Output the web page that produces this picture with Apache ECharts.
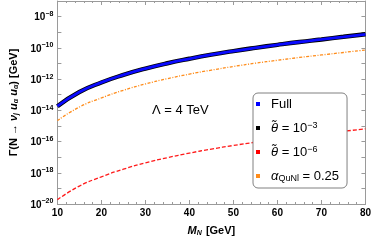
<!DOCTYPE html>
<html>
<head>
<meta charset="utf-8">
<script src="https://cdn.jsdelivr.net/npm/echarts@6/dist/echarts.min.js"></script>
<style>html,body{margin:0;padding:0;background:#fff;}#c{width:374px;height:242px;}</style>
</head>
<body>
<div id="c"></div>
<script>
var masses = [10, 15, 20, 25, 30, 35, 40, 45, 50, 55, 60, 65, 70, 75, 80];
var fullVals = [1.85e-14, 1.5e-13, 6.1e-13, 1.85e-12, 4.7e-12, 1.03e-11, 2.0e-11, 3.65e-11, 6.2e-11, 1.0e-10, 1.56e-10, 2.37e-10, 3.45e-10, 5.1e-10, 7.4e-10];
var theta3Vals = [1.85e-14, 1.5e-13, 6.1e-13, 1.85e-12, 4.7e-12, 1.03e-11, 2.0e-11, 3.65e-11, 6.2e-11, 1.0e-10, 1.56e-10, 2.37e-10, 3.45e-10, 5.1e-10, 7.4e-10];
var theta6Vals = [1.9e-20, 1.41e-19, 5.5e-19, 1.7e-18, 4.3e-18, 9.3e-18, 1.82e-17, 3.3e-17, 5.6e-17, 9.1e-17, 1.41e-16, 2.14e-16, 3.1e-16, 4.5e-16, 6.5e-16];
var alphaVals = [2.2e-15, 1.62e-14, 6.2e-14, 1.92e-13, 4.85e-13, 1.06e-12, 2.08e-12, 3.75e-12, 6.4e-12, 1.04e-11, 1.6e-11, 2.42e-11, 3.5e-11, 5.05e-11, 7.3e-11];
var xTicks = [10, 20, 30, 40, 50, 60, 70, 80];
var yLabelExps = [-20, -18, -16, -14, -12, -10, -8];

function pairs(v) { return masses.map(function (m, i) { return [m, v[i]]; }); }

var FF = '"Liberation Sans", Arial, sans-serif';
var chart = echarts.init(document.getElementById('c'), null, {renderer: 'canvas'});
var axisGray = '#9a9a9a';

var legendText = {
  'Full': 'Full',
  'theta3': '{it|θ̃} = 10{sup|−3}',
  'theta6': '{it|θ̃} = 10{sup|−6}',
  'alpha': '{it|α}{sub|QuNl} = 0.25'
};

chart.setOption({
  animation: false,
  grid: {left: 48, right: 8, top: 1, bottom: 35},
  xAxis: [{
    type: 'value', min: 10, max: 80, interval: 10, position: 'bottom',
    name: '{it|M}{sub|N} [GeV]', nameLocation: 'middle', nameGap: 21,
    nameTextStyle: {
      fontFamily: FF, fontSize: 11, fontWeight: 'bold', color: '#000',
      rich: {
        it: {fontFamily: FF, fontSize: 11, fontWeight: 'bold', fontStyle: 'italic', color: '#000'},
        sub: {fontFamily: FF, fontSize: 7, fontWeight: 'bold', fontStyle: 'italic', color: '#000', padding: [5, 1, 0, 0]}
      }
    },
    axisLine: {show: true, lineStyle: {color: axisGray}},
    axisTick: {show: true, inside: true, length: 4, lineStyle: {color: axisGray}},
    minorTick: {show: true, splitNumber: 5, length: 2, lineStyle: {color: axisGray}},
    splitLine: {show: false},
    axisLabel: {
      fontFamily: FF, fontSize: 10, fontWeight: 'bold', color: '#000', margin: 4,
      formatter: function (v) { return xTicks.indexOf(v) >= 0 ? String(v) : ''; }
    }
  }, {
    type: 'value', min: 10, max: 80, interval: 10, position: 'top',
    axisLine: {show: true, onZero: false, lineStyle: {color: axisGray}},
    axisTick: {show: true, inside: true, length: 4, lineStyle: {color: axisGray}},
    minorTick: {show: true, splitNumber: 5, length: 2, lineStyle: {color: axisGray}},
    splitLine: {show: false},
    axisLabel: {show: false}
  }],
  yAxis: [{
    type: 'log', logBase: 10, min: 1e-20, max: 1e-7, interval: 1, position: 'left',
    name: 'Γ(N → {it|ν}{sub|j} {it|u}{sub|α} {it|u}{sub|α}) [GeV]',
    nameLocation: 'middle', nameRotate: 90, nameGap: 37,
    nameTextStyle: {
      fontFamily: FF, fontSize: 11, fontWeight: 'bold', color: '#000',
      rich: {
        it: {fontFamily: FF, fontSize: 11, fontWeight: 'bold', fontStyle: 'italic', color: '#000'},
        sub: {fontFamily: FF, fontSize: 7, fontWeight: 'bold', fontStyle: 'italic', color: '#000', padding: [5, 0, 0, 0]}
      }
    },
    axisLine: {show: true, lineStyle: {color: axisGray}},
    axisTick: {show: true, inside: true, length: 4, lineStyle: {color: axisGray}},
    splitLine: {show: false},
    axisLabel: {
      margin: 4, color: '#000',
      formatter: function (v) {
        var e = Math.round(Math.log10(v));
        if (yLabelExps.indexOf(e) < 0) return '';
        return '{b|10}{s|−' + Math.abs(e) + '}';
      },
      rich: {
        b: {fontFamily: FF, fontSize: 10, fontWeight: 'bold', color: '#000', verticalAlign: 'bottom'},
        s: {fontFamily: FF, fontSize: 7, fontWeight: 'bold', color: '#000', verticalAlign: 'bottom', padding: [0, 0, 5, 0]}
      }
    }
  }, {
    type: 'log', logBase: 10, min: 1e-20, max: 1e-7, interval: 1, position: 'right',
    axisLine: {show: true, lineStyle: {color: axisGray}},
    axisTick: {show: true, inside: true, length: 4, lineStyle: {color: axisGray}},
    splitLine: {show: false},
    axisLabel: {show: false}
  }],
  legend: {
    orient: 'vertical', left: 253, top: 93,
    data: ['Full', 'theta3', 'theta6', 'alpha'],
    icon: 'rect', itemWidth: 4, itemHeight: 4, itemGap: 8,
    backgroundColor: '#fff', borderColor: '#808080', borderWidth: 1, borderRadius: 5,
    padding: [3, 8, 4, 3],
    formatter: function (n) { return legendText[n]; },
    textStyle: {
      fontFamily: FF, fontSize: 13, color: '#000', lineHeight: 16, padding: [0, 0, 0, 6],
      rich: {
        it: {fontFamily: FF, fontSize: 13, fontStyle: 'italic', color: '#000', lineHeight: 16},
        sup: {fontFamily: FF, fontSize: 9, color: '#000', verticalAlign: 'bottom', padding: [0, 0, 6, 0]},
        sub: {fontFamily: FF, fontSize: 9, color: '#000', padding: [5, 0, 0, 0]}
      }
    }
  },
  graphic: [{
    type: 'text', left: 152, top: 104, silent: true,
    style: {text: 'Λ = 4 TeV', font: '13px "Liberation Sans", Arial, sans-serif', fill: '#000'}
  }],
  series: [{
    name: 'theta3', type: 'line', data: pairs(theta3Vals), smooth: true, showSymbol: false,
    color: '#000000', lineStyle: {width: 4.4, color: '#000000'}, z: 2
  }, {
    name: 'Full', type: 'line', data: pairs(fullVals), smooth: true, showSymbol: false,
    color: '#0000ff', lineStyle: {width: 2.8, color: '#0a0aff'}, z: 3
  }, {
    name: 'theta6', type: 'line', data: pairs(theta6Vals), smooth: true, showSymbol: false,
    color: '#ff0000', lineStyle: {width: 1.3, color: '#ff1a1a', type: [4, 2]}, z: 3
  }, {
    name: 'alpha', type: 'line', data: pairs(alphaVals), smooth: true, showSymbol: false,
    color: '#ff8c1a', lineStyle: {width: 1.3, color: '#ff8c1a', type: [3, 1.5, 1, 1.5]}, z: 3
  }]
});
</script>
</body>
</html>
